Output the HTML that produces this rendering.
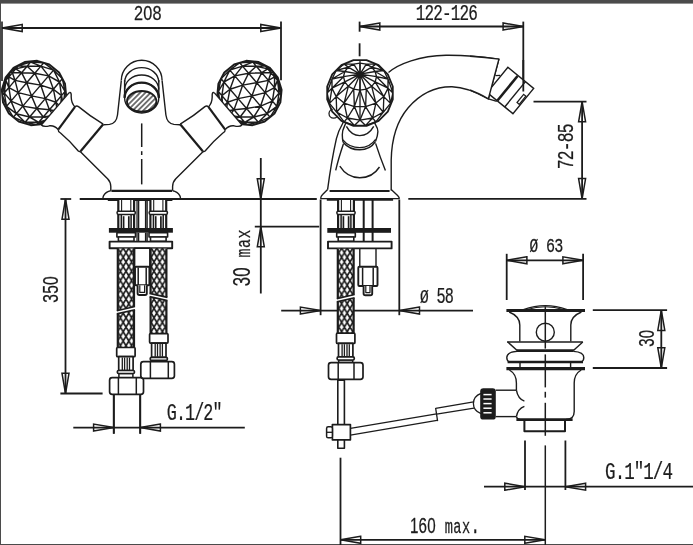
<!DOCTYPE html>
<html><head><meta charset="utf-8"><title>Technical drawing</title>
<style>
html,body{margin:0;padding:0;background:#fff;}
svg{display:block;}
.t{font-family:"Liberation Mono",monospace;fill:#1c1c1c;stroke:#1c1c1c;stroke-width:0.25;}
svg{filter:grayscale(1);}
.z{font-family:"Liberation Sans",sans-serif;}
</style></head>
<body>
<svg width="693" height="545" viewBox="0 0 693 545" fill="none" stroke="#1c1c1c" stroke-linecap="butt" stroke-linejoin="round">
<defs>
<pattern id="mesh" width="5.6" height="9.3" patternUnits="userSpaceOnUse" x="117.6" y="248">
<rect width="5.6" height="9.3" fill="#fff" stroke="none"/>
<path d="M0,0L5.6,9.3M5.6,0L0,9.3M-2.8,4.65L2.8,13.95M2.8,-4.65L8.4,4.65M-2.8,4.65L2.8,-4.65M2.8,13.95L8.4,4.65" stroke-width="1.7"/>
</pattern>
<pattern id="hatch" width="3.7" height="3.7" patternUnits="userSpaceOnUse" patternTransform="rotate(-45)">
<line x1="0" y1="1.85" x2="3.7" y2="1.85" stroke-width="1.2"/>
</pattern>
<clipPath id="cpL"><path d="M-10,40 L69.2,92.6 L41.3,125 L30,140 L-10,140 Z M-10,40 L90,40 L69.2,92.6 Z"/></clipPath>
</defs>
<rect x="0" y="0" width="693" height="545" fill="#fff" stroke="none"/>
<rect x="0" y="0" width="693" height="3.6" fill="#4b4b4b" stroke="none"/>
<rect x="0" y="0" width="1" height="545" fill="#4b4b4b" stroke="none"/>
<rect x="0" y="544" width="693" height="1" fill="#4b4b4b" stroke="none"/>
<line x1="2.00" y1="21.60" x2="2.00" y2="81.00" stroke-width="1.6" />
<line x1="281.00" y1="21.60" x2="281.00" y2="80.30" stroke-width="1.8" />
<line x1="2.00" y1="28.00" x2="281.00" y2="28.00" stroke-width="1.8" />
<path d="M22.20,24.50 L2.00,28.00 L22.20,31.50 Z" stroke-width="1.5" fill="none" stroke-linejoin="miter"/>
<path d="M260.80,31.50 L281.00,28.00 L260.80,24.50 Z" stroke-width="1.5" fill="none" stroke-linejoin="miter"/>
<line x1="359.60" y1="21.60" x2="359.60" y2="31.70" stroke-width="1.8" />
<line x1="359.60" y1="43.30" x2="359.60" y2="56.30" stroke-width="1.8" />
<line x1="523.30" y1="21.60" x2="523.30" y2="91.50" stroke-width="1.8" />
<line x1="359.60" y1="26.50" x2="523.30" y2="26.50" stroke-width="1.8" />
<path d="M379.80,23.00 L359.60,26.50 L379.80,30.00 Z" stroke-width="1.5" fill="none" stroke-linejoin="miter"/>
<path d="M503.10,30.00 L523.30,26.50 L503.10,23.00 Z" stroke-width="1.5" fill="none" stroke-linejoin="miter"/>
<line x1="533.50" y1="101.60" x2="586.50" y2="101.60" stroke-width="1.8" />
<line x1="408.30" y1="198.80" x2="586.50" y2="198.80" stroke-width="1.8" />
<line x1="582.10" y1="101.60" x2="582.10" y2="198.80" stroke-width="1.8" />
<path d="M585.60,121.80 L582.10,101.60 L578.60,121.80 Z" stroke-width="1.5" fill="none" stroke-linejoin="miter"/>
<path d="M578.60,178.60 L582.10,198.80 L585.60,178.60 Z" stroke-width="1.5" fill="none" stroke-linejoin="miter"/>
<line x1="260.80" y1="158.00" x2="260.80" y2="293.50" stroke-width="1.8" />
<line x1="254.80" y1="226.60" x2="319.20" y2="226.60" stroke-width="1.8" />
<path d="M257.30,178.80 L260.80,199.00 L264.30,178.80 Z" stroke-width="1.5" fill="none" stroke-linejoin="miter"/>
<path d="M264.30,246.80 L260.80,226.60 L257.30,246.80 Z" stroke-width="1.5" fill="none" stroke-linejoin="miter"/>
<line x1="60.40" y1="199.00" x2="71.20" y2="199.00" stroke-width="1.8" />
<line x1="65.50" y1="199.00" x2="65.50" y2="393.50" stroke-width="1.8" />
<line x1="60.40" y1="393.50" x2="102.60" y2="393.50" stroke-width="1.8" />
<path d="M69.00,219.20 L65.50,199.00 L62.00,219.20 Z" stroke-width="1.5" fill="none" stroke-linejoin="miter"/>
<path d="M62.00,373.30 L65.50,393.50 L69.00,373.30 Z" stroke-width="1.5" fill="none" stroke-linejoin="miter"/>
<line x1="113.80" y1="394.30" x2="113.80" y2="433.70" stroke-width="1.8" />
<line x1="140.20" y1="394.30" x2="140.20" y2="433.70" stroke-width="1.8" />
<line x1="73.30" y1="427.60" x2="244.80" y2="427.60" stroke-width="1.8" />
<path d="M93.60,431.10 L113.80,427.60 L93.60,424.10 Z" stroke-width="1.5" fill="none" stroke-linejoin="miter"/>
<path d="M160.40,424.10 L140.20,427.60 L160.40,431.10 Z" stroke-width="1.5" fill="none" stroke-linejoin="miter"/>
<line x1="320.60" y1="199.50" x2="320.60" y2="315.20" stroke-width="1.8" />
<line x1="399.30" y1="199.50" x2="399.30" y2="315.20" stroke-width="1.8" />
<line x1="281.20" y1="310.60" x2="473.00" y2="310.60" stroke-width="1.8" />
<path d="M300.40,314.10 L320.60,310.60 L300.40,307.10 Z" stroke-width="1.5" fill="none" stroke-linejoin="miter"/>
<path d="M419.50,307.10 L399.30,310.60 L419.50,314.10 Z" stroke-width="1.5" fill="none" stroke-linejoin="miter"/>
<line x1="506.70" y1="253.80" x2="506.70" y2="300.00" stroke-width="1.8" />
<line x1="583.10" y1="253.80" x2="583.10" y2="300.00" stroke-width="1.8" />
<line x1="506.70" y1="260.30" x2="583.10" y2="260.30" stroke-width="1.8" />
<path d="M526.90,256.80 L506.70,260.30 L526.90,263.80 Z" stroke-width="1.5" fill="none" stroke-linejoin="miter"/>
<path d="M562.90,263.80 L583.10,260.30 L562.90,256.80 Z" stroke-width="1.5" fill="none" stroke-linejoin="miter"/>
<line x1="592.80" y1="310.20" x2="667.10" y2="310.20" stroke-width="1.8" />
<line x1="592.80" y1="368.00" x2="667.10" y2="368.00" stroke-width="1.8" />
<line x1="661.30" y1="310.20" x2="661.30" y2="368.00" stroke-width="1.8" />
<path d="M664.80,330.40 L661.30,310.20 L657.80,330.40 Z" stroke-width="1.5" fill="none" stroke-linejoin="miter"/>
<path d="M657.80,347.80 L661.30,368.00 L664.80,347.80 Z" stroke-width="1.5" fill="none" stroke-linejoin="miter"/>
<line x1="525.00" y1="440.50" x2="525.00" y2="490.00" stroke-width="1.8" />
<line x1="565.40" y1="440.50" x2="565.40" y2="490.00" stroke-width="1.8" />
<line x1="484.00" y1="486.70" x2="693.00" y2="486.70" stroke-width="1.8" />
<path d="M504.80,490.20 L525.00,486.70 L504.80,483.20 Z" stroke-width="1.5" fill="none" stroke-linejoin="miter"/>
<path d="M585.60,483.20 L565.40,486.70 L585.60,490.20 Z" stroke-width="1.5" fill="none" stroke-linejoin="miter"/>
<line x1="340.50" y1="457.70" x2="340.50" y2="545.00" stroke-width="1.8" />
<line x1="340.50" y1="539.80" x2="545.00" y2="539.80" stroke-width="1.8" />
<path d="M360.70,536.30 L340.50,539.80 L360.70,543.30 Z" stroke-width="1.5" fill="none" stroke-linejoin="miter"/>
<path d="M524.80,543.30 L545.00,539.80 L524.80,536.30 Z" stroke-width="1.5" fill="none" stroke-linejoin="miter"/>
<g>
<clipPath id="bc1"><path d="M66.2,96.2L62.5,108.3L54.5,118.1L43.3,124.0L30.8,125.2L18.7,121.5L8.9,113.5L3.0,102.3L1.8,89.8L5.5,77.7L13.5,67.9L24.7,62.0L37.2,60.8L49.3,64.5L59.1,72.5L65.0,83.7Z"/></clipPath>
<path d="M9.7,72.2L19.4,64.5M9.7,72.2L18.2,65.9M9.7,72.2L15.7,68.9M9.7,72.2L12.4,72.8M9.7,72.2L8.8,76.9M9.7,72.2L5.9,80.4M9.7,72.2L4.0,82.6M58.3,113.8L64.4,103.0M58.3,113.8L63.2,104.4M58.3,113.8L60.6,107.3M58.3,113.8L57.3,111.2M58.3,113.8L53.8,115.4M58.3,113.8L50.8,118.8M58.3,113.8L48.9,121.0M19.4,64.5L18.2,65.9M18.2,65.9L15.7,68.9M15.7,68.9L12.4,72.8M12.4,72.8L8.8,76.9M8.8,76.9L5.9,80.4M5.9,80.4L4.0,82.6M30.6,62.1L27.1,66.2M27.1,66.2L21.6,72.7M21.6,72.7L15.0,80.4M15.0,80.4L8.9,87.6M8.9,87.6L4.3,92.9M4.3,92.9L2.2,95.4M43.8,62.7L40.9,66.1M40.9,66.1L34.8,73.2M34.8,73.2L26.7,82.7M26.7,82.7L18.2,92.6M18.2,92.6L11.0,101.1M11.0,101.1L6.5,106.3M53.6,70.1L48.6,75.9M48.6,75.9L40.7,85.1M40.7,85.1L31.5,95.9M31.5,95.9L22.8,106.1M22.8,106.1L16.3,113.7M16.3,113.7L13.3,117.2M62.4,78.7L59.5,82.0M59.5,82.0L53.4,89.2M53.4,89.2L45.3,98.6M45.3,98.6L36.8,108.5M36.8,108.5L29.6,117.0M29.6,117.0L25.1,122.2M65.0,91.5L61.5,95.6M61.5,95.6L55.9,102.2M55.9,102.2L49.4,109.8M49.4,109.8L43.3,117.0M43.3,117.0L38.7,122.3M38.7,122.3L36.6,124.8M64.4,103.0L63.2,104.4M63.2,104.4L60.6,107.3M60.6,107.3L57.3,111.2M57.3,111.2L53.8,115.4M53.8,115.4L50.8,118.8M50.8,118.8L48.9,121.0M19.4,64.5L30.6,62.1M18.2,65.9L30.6,62.1M18.2,65.9L27.1,66.2M15.7,68.9L27.1,66.2M15.7,68.9L21.6,72.7M12.4,72.8L21.6,72.7M12.4,72.8L15.0,80.4M8.8,76.9L15.0,80.4M8.8,76.9L8.9,87.6M5.9,80.4L8.9,87.6M5.9,80.4L4.3,92.9M4.0,82.6L4.3,92.9M4.0,82.6L2.2,95.4M30.6,62.1L43.8,62.7M30.6,62.1L40.9,66.1M27.1,66.2L40.9,66.1M27.1,66.2L34.8,73.2M21.6,72.7L34.8,73.2M21.6,72.7L26.7,82.7M15.0,80.4L26.7,82.7M15.0,80.4L18.2,92.6M8.9,87.6L18.2,92.6M8.9,87.6L11.0,101.1M4.3,92.9L11.0,101.1M4.3,92.9L6.5,106.3M2.2,95.4L6.5,106.3M43.8,62.7L53.6,70.1M40.9,66.1L53.6,70.1M40.9,66.1L48.6,75.9M34.8,73.2L48.6,75.9M34.8,73.2L40.7,85.1M26.7,82.7L40.7,85.1M26.7,82.7L31.5,95.9M18.2,92.6L31.5,95.9M18.2,92.6L22.8,106.1M11.0,101.1L22.8,106.1M11.0,101.1L16.3,113.7M6.5,106.3L16.3,113.7M6.5,106.3L13.3,117.2M53.6,70.1L62.4,78.7M53.6,70.1L59.5,82.0M48.6,75.9L59.5,82.0M48.6,75.9L53.4,89.2M40.7,85.1L53.4,89.2M40.7,85.1L45.3,98.6M31.5,95.9L45.3,98.6M31.5,95.9L36.8,108.5M22.8,106.1L36.8,108.5M22.8,106.1L29.6,117.0M16.3,113.7L29.6,117.0M16.3,113.7L25.1,122.2M13.3,117.2L25.1,122.2M62.4,78.7L65.0,91.5M59.5,82.0L65.0,91.5M59.5,82.0L61.5,95.6M53.4,89.2L61.5,95.6M53.4,89.2L55.9,102.2M45.3,98.6L55.9,102.2M45.3,98.6L49.4,109.8M36.8,108.5L49.4,109.8M36.8,108.5L43.3,117.0M29.6,117.0L43.3,117.0M29.6,117.0L38.7,122.3M25.1,122.2L38.7,122.3M25.1,122.2L36.6,124.8M65.0,91.5L64.4,103.0M65.0,91.5L63.2,104.4M61.5,95.6L63.2,104.4M61.5,95.6L60.6,107.3M55.9,102.2L60.6,107.3M55.9,102.2L57.3,111.2M49.4,109.8L57.3,111.2M49.4,109.8L53.8,115.4M43.3,117.0L53.8,115.4M43.3,117.0L50.8,118.8M38.7,122.3L50.8,118.8M38.7,122.3L48.9,121.0M36.6,124.8L48.9,121.0" stroke-width="1.45" fill="none" clip-path="url(#bc1)"/>
<path d="M66.2,96.2L62.5,108.3L54.5,118.1L43.3,124.0L30.8,125.2L18.7,121.5L8.9,113.5L3.0,102.3L1.8,89.8L5.5,77.7L13.5,67.9L24.7,62.0L37.2,60.8L49.3,64.5L59.1,72.5L65.0,83.7Z" stroke-width="1.9" fill="none" />
<path d="M69.2,92.6 L41.3,125 L30,140 L60,150 L90,100 Z" stroke-width="0" fill="#fff" stroke="none"/>
<path d="M41.3,125 L69.2,92.6" stroke-width="1.4" fill="none" />
<path d="M69.2,92.6 C71,92 71.4,93.5 71.2,97 C71.3,101 72.6,104.6 75,106.9" stroke-width="1.4" fill="none" />
<path d="M41.3,125 C43.5,127.2 46,126.6 49.5,125.8 C53,125.4 56,127 58.2,129.6" stroke-width="1.4" fill="none" />
<path d="M75,106.9 L58.2,129.6" stroke-width="2.2" fill="none" />
<path d="M75,106.9 Q76.5,105.2 78.5,106.6 Q90,116.2 103.2,124.2" stroke-width="1.4" fill="none" />
<path d="M103.2,124.2 L80.6,151.2" stroke-width="2.2" fill="none" />
<path d="M58.2,129.6 Q58,131.5 60.5,133 Q70,141 78.3,151 Q79.5,152 80.6,151.2" stroke-width="1.4" fill="none" />
<path d="M80.2,151.6 L107.6,178.8 Q110.8,182.2 110.8,186.6 L110.8,190.8" stroke-width="1.4" fill="none" />
<path d="M103.4,124.8 L109.5,124.4 Q116.3,123.6 117.5,115 L121.3,80.6" stroke-width="1.4" fill="none" />
<path d="M110.8,190.8 Q106,191.6 103.6,195.6 Q102.8,197 103,198.6" stroke-width="1.4" fill="none" />
</g>
<g transform="translate(283.4,0) scale(-1,1)">
<clipPath id="bc2"><path d="M66.2,96.2L62.5,108.3L54.5,118.1L43.3,124.0L30.8,125.2L18.7,121.5L8.9,113.5L3.0,102.3L1.8,89.8L5.5,77.7L13.5,67.9L24.7,62.0L37.2,60.8L49.3,64.5L59.1,72.5L65.0,83.7Z"/></clipPath>
<path d="M9.7,72.2L19.4,64.5M9.7,72.2L18.2,65.9M9.7,72.2L15.7,68.9M9.7,72.2L12.4,72.8M9.7,72.2L8.8,76.9M9.7,72.2L5.9,80.4M9.7,72.2L4.0,82.6M58.3,113.8L64.4,103.0M58.3,113.8L63.2,104.4M58.3,113.8L60.6,107.3M58.3,113.8L57.3,111.2M58.3,113.8L53.8,115.4M58.3,113.8L50.8,118.8M58.3,113.8L48.9,121.0M19.4,64.5L18.2,65.9M18.2,65.9L15.7,68.9M15.7,68.9L12.4,72.8M12.4,72.8L8.8,76.9M8.8,76.9L5.9,80.4M5.9,80.4L4.0,82.6M30.6,62.1L27.1,66.2M27.1,66.2L21.6,72.7M21.6,72.7L15.0,80.4M15.0,80.4L8.9,87.6M8.9,87.6L4.3,92.9M4.3,92.9L2.2,95.4M43.8,62.7L40.9,66.1M40.9,66.1L34.8,73.2M34.8,73.2L26.7,82.7M26.7,82.7L18.2,92.6M18.2,92.6L11.0,101.1M11.0,101.1L6.5,106.3M53.6,70.1L48.6,75.9M48.6,75.9L40.7,85.1M40.7,85.1L31.5,95.9M31.5,95.9L22.8,106.1M22.8,106.1L16.3,113.7M16.3,113.7L13.3,117.2M62.4,78.7L59.5,82.0M59.5,82.0L53.4,89.2M53.4,89.2L45.3,98.6M45.3,98.6L36.8,108.5M36.8,108.5L29.6,117.0M29.6,117.0L25.1,122.2M65.0,91.5L61.5,95.6M61.5,95.6L55.9,102.2M55.9,102.2L49.4,109.8M49.4,109.8L43.3,117.0M43.3,117.0L38.7,122.3M38.7,122.3L36.6,124.8M64.4,103.0L63.2,104.4M63.2,104.4L60.6,107.3M60.6,107.3L57.3,111.2M57.3,111.2L53.8,115.4M53.8,115.4L50.8,118.8M50.8,118.8L48.9,121.0M19.4,64.5L30.6,62.1M18.2,65.9L30.6,62.1M18.2,65.9L27.1,66.2M15.7,68.9L27.1,66.2M15.7,68.9L21.6,72.7M12.4,72.8L21.6,72.7M12.4,72.8L15.0,80.4M8.8,76.9L15.0,80.4M8.8,76.9L8.9,87.6M5.9,80.4L8.9,87.6M5.9,80.4L4.3,92.9M4.0,82.6L4.3,92.9M4.0,82.6L2.2,95.4M30.6,62.1L43.8,62.7M30.6,62.1L40.9,66.1M27.1,66.2L40.9,66.1M27.1,66.2L34.8,73.2M21.6,72.7L34.8,73.2M21.6,72.7L26.7,82.7M15.0,80.4L26.7,82.7M15.0,80.4L18.2,92.6M8.9,87.6L18.2,92.6M8.9,87.6L11.0,101.1M4.3,92.9L11.0,101.1M4.3,92.9L6.5,106.3M2.2,95.4L6.5,106.3M43.8,62.7L53.6,70.1M40.9,66.1L53.6,70.1M40.9,66.1L48.6,75.9M34.8,73.2L48.6,75.9M34.8,73.2L40.7,85.1M26.7,82.7L40.7,85.1M26.7,82.7L31.5,95.9M18.2,92.6L31.5,95.9M18.2,92.6L22.8,106.1M11.0,101.1L22.8,106.1M11.0,101.1L16.3,113.7M6.5,106.3L16.3,113.7M6.5,106.3L13.3,117.2M53.6,70.1L62.4,78.7M53.6,70.1L59.5,82.0M48.6,75.9L59.5,82.0M48.6,75.9L53.4,89.2M40.7,85.1L53.4,89.2M40.7,85.1L45.3,98.6M31.5,95.9L45.3,98.6M31.5,95.9L36.8,108.5M22.8,106.1L36.8,108.5M22.8,106.1L29.6,117.0M16.3,113.7L29.6,117.0M16.3,113.7L25.1,122.2M13.3,117.2L25.1,122.2M62.4,78.7L65.0,91.5M59.5,82.0L65.0,91.5M59.5,82.0L61.5,95.6M53.4,89.2L61.5,95.6M53.4,89.2L55.9,102.2M45.3,98.6L55.9,102.2M45.3,98.6L49.4,109.8M36.8,108.5L49.4,109.8M36.8,108.5L43.3,117.0M29.6,117.0L43.3,117.0M29.6,117.0L38.7,122.3M25.1,122.2L38.7,122.3M25.1,122.2L36.6,124.8M65.0,91.5L64.4,103.0M65.0,91.5L63.2,104.4M61.5,95.6L63.2,104.4M61.5,95.6L60.6,107.3M55.9,102.2L60.6,107.3M55.9,102.2L57.3,111.2M49.4,109.8L57.3,111.2M49.4,109.8L53.8,115.4M43.3,117.0L53.8,115.4M43.3,117.0L50.8,118.8M38.7,122.3L50.8,118.8M38.7,122.3L48.9,121.0M36.6,124.8L48.9,121.0" stroke-width="1.45" fill="none" clip-path="url(#bc2)"/>
<path d="M66.2,96.2L62.5,108.3L54.5,118.1L43.3,124.0L30.8,125.2L18.7,121.5L8.9,113.5L3.0,102.3L1.8,89.8L5.5,77.7L13.5,67.9L24.7,62.0L37.2,60.8L49.3,64.5L59.1,72.5L65.0,83.7Z" stroke-width="1.9" fill="none" />
<path d="M69.2,92.6 L41.3,125 L30,140 L60,150 L90,100 Z" stroke-width="0" fill="#fff" stroke="none"/>
<path d="M41.3,125 L69.2,92.6" stroke-width="1.4" fill="none" />
<path d="M69.2,92.6 C71,92 71.4,93.5 71.2,97 C71.3,101 72.6,104.6 75,106.9" stroke-width="1.4" fill="none" />
<path d="M41.3,125 C43.5,127.2 46,126.6 49.5,125.8 C53,125.4 56,127 58.2,129.6" stroke-width="1.4" fill="none" />
<path d="M75,106.9 L58.2,129.6" stroke-width="2.2" fill="none" />
<path d="M75,106.9 Q76.5,105.2 78.5,106.6 Q90,116.2 103.2,124.2" stroke-width="1.4" fill="none" />
<path d="M103.2,124.2 L80.6,151.2" stroke-width="2.2" fill="none" />
<path d="M58.2,129.6 Q58,131.5 60.5,133 Q70,141 78.3,151 Q79.5,152 80.6,151.2" stroke-width="1.4" fill="none" />
<path d="M80.2,151.6 L107.6,178.8 Q110.8,182.2 110.8,186.6 L110.8,190.8" stroke-width="1.4" fill="none" />
<path d="M103.4,124.8 L109.5,124.4 Q116.3,123.6 117.5,115 L121.3,80.6" stroke-width="1.4" fill="none" />
<path d="M110.8,190.8 Q106,191.6 103.6,195.6 Q102.8,197 103,198.6" stroke-width="1.4" fill="none" />
</g>
<path d="M121.3,80.6 A20.4,20.4 0 0 1 162.1,80.6" stroke-width="1.4" fill="none" />
<path d="M124.7,82.2 A17,14.6 0 0 1 158.7,82.2" stroke-width="1.4" fill="none" />
<path d="M124.7,89.6 A17,14.6 0 0 1 158.7,89.6" stroke-width="1.4" fill="none" />
<line x1="124.60" y1="80.00" x2="124.60" y2="98.00" stroke-width="1.4" />
<line x1="158.80" y1="80.00" x2="158.80" y2="98.00" stroke-width="1.4" />
<ellipse cx="141.7" cy="97.8" rx="17.1" ry="15.2" stroke-width="1.4"/>
<path d="M124.6,97.8 A17.1,15.2 0 0 1 158.8,97.8" stroke-width="2.4" fill="none" />
<ellipse cx="141.7" cy="101.4" rx="14.7" ry="10.4" stroke-width="1.9" fill="url(#hatch)"/>
<line x1="111.40" y1="190.90" x2="172.00" y2="190.90" stroke-width="2.2" />
<line x1="141.70" y1="123.40" x2="141.70" y2="147.00" stroke-width="1.5" />
<line x1="141.70" y1="151.20" x2="141.70" y2="155.00" stroke-width="1.5" />
<line x1="141.70" y1="159.00" x2="141.70" y2="184.40" stroke-width="1.5" />
<line x1="79.70" y1="199.00" x2="316.80" y2="199.00" stroke-width="1.9" />
<line x1="107.80" y1="199.80" x2="172.40" y2="199.80" stroke-width="2.2" />
<rect x="118.30" y="200.00" width="15.80" height="28.00" rx="0" stroke-width="0" fill="#fff" stroke="none"/>
<line x1="118.30" y1="200.00" x2="118.30" y2="228.00" stroke-width="2.2" />
<line x1="134.10" y1="200.00" x2="134.10" y2="228.00" stroke-width="2.2" />
<line x1="121.60" y1="200.00" x2="121.60" y2="211.50" stroke-width="1.1" />
<line x1="130.80" y1="200.00" x2="130.80" y2="211.50" stroke-width="1.1" />
<line x1="121.30" y1="214.50" x2="121.30" y2="228.00" stroke-width="1.5" />
<line x1="131.10" y1="214.50" x2="131.10" y2="228.00" stroke-width="1.5" />
<line x1="123.60" y1="216.20" x2="123.60" y2="228.00" stroke-width="1.7" />
<line x1="128.80" y1="216.20" x2="128.80" y2="228.00" stroke-width="1.7" />
<rect x="117.00" y="211.20" width="18.40" height="3.20" rx="1.6" stroke-width="1.5" fill="#fff" />
<rect x="116.90" y="232.70" width="18.60" height="4.30" rx="0" stroke-width="1.6" fill="#fff" />
<rect x="118.40" y="237.00" width="15.60" height="4.40" rx="0" stroke-width="1.6" fill="#fff" />
<rect x="150.40" y="200.00" width="15.80" height="28.00" rx="0" stroke-width="0" fill="#fff" stroke="none"/>
<line x1="150.40" y1="200.00" x2="150.40" y2="228.00" stroke-width="2.2" />
<line x1="166.20" y1="200.00" x2="166.20" y2="228.00" stroke-width="2.2" />
<line x1="153.70" y1="200.00" x2="153.70" y2="211.50" stroke-width="1.1" />
<line x1="162.90" y1="200.00" x2="162.90" y2="211.50" stroke-width="1.1" />
<line x1="153.40" y1="214.50" x2="153.40" y2="228.00" stroke-width="1.5" />
<line x1="163.20" y1="214.50" x2="163.20" y2="228.00" stroke-width="1.5" />
<line x1="155.70" y1="216.20" x2="155.70" y2="228.00" stroke-width="1.7" />
<line x1="160.90" y1="216.20" x2="160.90" y2="228.00" stroke-width="1.7" />
<rect x="149.10" y="211.20" width="18.40" height="3.20" rx="1.6" stroke-width="1.5" fill="#fff" />
<rect x="149.00" y="232.70" width="18.60" height="4.30" rx="0" stroke-width="1.6" fill="#fff" />
<rect x="150.50" y="237.00" width="15.60" height="4.40" rx="0" stroke-width="1.6" fill="#fff" />
<line x1="136.90" y1="200.50" x2="136.90" y2="228.00" stroke-width="1.0" />
<line x1="136.90" y1="232.70" x2="136.90" y2="241.40" stroke-width="1.0" />
<line x1="138.40" y1="200.50" x2="138.40" y2="228.00" stroke-width="1.8" />
<line x1="138.40" y1="232.70" x2="138.40" y2="241.40" stroke-width="1.8" />
<line x1="145.80" y1="200.50" x2="145.80" y2="228.00" stroke-width="1.8" />
<line x1="145.80" y1="232.70" x2="145.80" y2="241.40" stroke-width="1.8" />
<line x1="147.30" y1="200.50" x2="147.30" y2="228.00" stroke-width="1.0" />
<line x1="147.30" y1="232.70" x2="147.30" y2="241.40" stroke-width="1.0" />
<rect x="108.90" y="228.00" width="64.00" height="4.70" rx="0" stroke-width="0" fill="#1c1c1c" stroke="none"/>
<rect x="109.60" y="241.60" width="62.60" height="6.60" rx="0" stroke-width="1.9" fill="#fff" />
<rect x="134.60" y="248.30" width="15.20" height="18.40" rx="0" stroke-width="1.4" fill="#fff" />
<rect x="135.00" y="266.70" width="14.40" height="18.50" rx="1" stroke-width="1.9" fill="#fff" />
<line x1="138.20" y1="267.50" x2="138.20" y2="285.20" stroke-width="1.5" />
<line x1="146.20" y1="267.50" x2="146.20" y2="285.20" stroke-width="1.5" />
<path d="M137.6,285.2 L137.6,293.2 Q137.6,295.0 139.4,295.0 L144.99999999999997,295.0 Q146.79999999999998,295.0 146.79999999999998,293.2 L146.79999999999998,285.2" stroke-width="1.9" fill="#fff" />
<path d="M139.79999999999998,285.2 L139.79999999999998,292.4 L144.6,292.4 L144.6,285.2" stroke-width="1.2" fill="none" />
<rect x="117.20" y="248.60" width="17.40" height="98.90" fill="url(#mesh)" stroke="none"/>
<line x1="117.80" y1="248.60" x2="117.80" y2="347.50" stroke-width="2.2" />
<line x1="134.00" y1="248.60" x2="134.00" y2="347.50" stroke-width="2.2" />
<path d="M115.7,310.70 L136.1,306.50 L136.1,309.70 L115.7,313.90 Z" stroke-width="0" fill="#fff" stroke="none"/>
<line x1="116.80" y1="310.70" x2="135.00" y2="306.50" stroke-width="1.6" />
<line x1="116.80" y1="313.90" x2="135.00" y2="309.70" stroke-width="1.6" />
<rect x="150.00" y="248.60" width="17.00" height="85.00" fill="url(#mesh)" stroke="none"/>
<line x1="150.60" y1="248.60" x2="150.60" y2="333.60" stroke-width="2.2" />
<line x1="166.40" y1="248.60" x2="166.40" y2="333.60" stroke-width="2.2" />
<path d="M148.5,293.40 L168.5,297.40 L168.5,300.60 L148.5,296.60 Z" stroke-width="0" fill="#fff" stroke="none"/>
<line x1="149.60" y1="293.40" x2="167.40" y2="297.40" stroke-width="1.6" />
<line x1="149.60" y1="296.60" x2="167.40" y2="300.60" stroke-width="1.6" />
<rect x="116.70" y="347.50" width="18.40" height="9.20" rx="1" stroke-width="1.7" fill="#fff" />
<rect x="118.70" y="356.70" width="14.40" height="13.80" rx="0" stroke-width="1.7" fill="#fff" />
<line x1="122.30" y1="357.50" x2="122.30" y2="370.00" stroke-width="1.3" />
<line x1="124.60" y1="357.50" x2="124.60" y2="370.00" stroke-width="1.3" />
<line x1="127.20" y1="357.50" x2="127.20" y2="370.00" stroke-width="1.3" />
<line x1="129.50" y1="357.50" x2="129.50" y2="370.00" stroke-width="1.3" />
<rect x="118.90" y="373.50" width="14.00" height="4.20" rx="0" stroke-width="1.5" fill="#fff" />
<rect x="117.30" y="370.50" width="17.20" height="3.00" rx="1.4" stroke-width="1.7" fill="#fff" />
<rect x="109.60" y="377.70" width="33.90" height="16.60" rx="2.6" stroke-width="1.7" fill="#fff" />
<line x1="118.40" y1="377.70" x2="118.40" y2="394.30" stroke-width="1.5" />
<line x1="136.30" y1="377.70" x2="136.30" y2="394.30" stroke-width="1.5" />
<rect x="149.60" y="333.60" width="18.40" height="9.50" rx="1" stroke-width="1.7" fill="#fff" />
<rect x="151.60" y="343.10" width="14.40" height="14.20" rx="0" stroke-width="1.7" fill="#fff" />
<line x1="155.20" y1="343.90" x2="155.20" y2="356.80" stroke-width="1.3" />
<line x1="157.50" y1="343.90" x2="157.50" y2="356.80" stroke-width="1.3" />
<line x1="160.10" y1="343.90" x2="160.10" y2="356.80" stroke-width="1.3" />
<line x1="162.40" y1="343.90" x2="162.40" y2="356.80" stroke-width="1.3" />
<rect x="151.80" y="360.30" width="14.00" height="1.40" rx="0" stroke-width="1.5" fill="#fff" />
<rect x="150.20" y="357.30" width="17.20" height="3.00" rx="1.4" stroke-width="1.7" fill="#fff" />
<rect x="140.80" y="361.70" width="33.60" height="16.60" rx="2.6" stroke-width="1.7" fill="#fff" />
<line x1="150.40" y1="361.70" x2="150.40" y2="378.30" stroke-width="1.5" />
<line x1="168.30" y1="361.70" x2="168.30" y2="378.30" stroke-width="1.5" />
<line x1="113.80" y1="394.30" x2="113.80" y2="433.70" stroke-width="1.8" />
<line x1="140.20" y1="394.30" x2="140.20" y2="433.70" stroke-width="1.8" />
<path d="M388.5,72.5 C398,64 420,55.6 446,55.2 C466,55 486,57.2 498.9,59.1 L488.4,98.8 C478,93 466,87.2 452,86.8 C436,86.6 420,94 408,108 C397,121 391.6,140 391.2,160 L391.2,190.4" stroke-width="1.4" fill="none" />
<path d="M327.6,189.6 C329.4,176 331.6,160 336.4,138.6 C338,132.4 340,128 342.4,124 L344,120.6" stroke-width="1.4" fill="none" />
<path d="M327.6,189.6 L322.6,194.4 Q320.6,196.2 320.6,198.8" stroke-width="1.4" fill="none" />
<path d="M391.2,189.6 L397.6,195.4 Q399.4,197 399.4,198.8" stroke-width="1.4" fill="none" />
<line x1="329.60" y1="191.00" x2="389.60" y2="191.00" stroke-width="1.8" />
<path d="M347,120 L344.8,125.4 C343,129 342.2,132 342.3,134.8 C342.3,138 342.6,140 343.1,142.2" stroke-width="1.4" fill="none" />
<path d="M373.4,120 L375.4,124.4 C377.2,127.4 378,129.6 377.9,131.6 C377.8,136 376.4,139 375.4,141.6" stroke-width="1.4" fill="none" />
<path d="M343.1,142.2 C348,148 354,149.8 359.7,149.8 C366,149.8 371.6,147.4 375.4,141.6" stroke-width="1.6" fill="none" />
<path d="M342.9,139.8 C348,146 354,147.6 359.7,147.6 C366,147.6 371.6,145.2 375.6,139.4" stroke-width="1.2" fill="none" />
<path d="M346.4,126.4 C350,133 355,135.6 359.7,135.6 C365,135.6 370,133 373.7,126.4" stroke-width="1.4" fill="none" />
<path d="M343.4,144 C340,154 337.6,162 335.7,170.4" stroke-width="1.4" fill="none" />
<path d="M375.6,143.4 C379,154 382.4,163 385.4,170.4" stroke-width="1.4" fill="none" />
<path d="M339.8,166.2 C345,174.4 352.6,177.8 359.7,177.8 C367,177.8 374.4,174.8 379.5,167" stroke-width="1.4" fill="none" />
<circle cx="333.6" cy="113.6" r="4.6" stroke-width="1.3"/>
<circle cx="360" cy="93" r="32" fill="#fff" stroke="none"/>
<clipPath id="bc3"><path d="M392.8,99.5L387.8,111.6L378.6,120.8L366.5,125.8L353.5,125.8L341.4,120.8L332.2,111.6L327.2,99.5L327.2,86.5L332.2,74.4L341.4,65.2L353.5,60.2L366.5,60.2L378.6,65.2L387.8,74.4L392.8,86.5Z"/></clipPath>
<path d="M360.0,74.2L343.5,76.7M360.0,74.2L344.8,71.5M360.0,74.2L348.3,67.1M360.0,74.2L353.7,64.2M360.0,74.2L360.0,63.1M360.0,74.2L366.3,64.2M360.0,74.2L371.7,67.1M360.0,74.2L375.2,71.5M360.0,74.2L376.5,76.7M360.0,74.2L375.2,81.9M360.0,74.2L371.7,86.3M360.0,74.2L366.3,89.2M360.0,74.2L360.0,90.2M360.0,74.2L353.7,89.2M360.0,74.2L348.3,86.3M360.0,74.2L344.8,81.9M343.5,76.7L344.8,71.5M344.8,71.5L348.3,67.1M348.3,67.1L353.7,64.2M353.7,64.2L360.0,63.1M360.0,63.1L366.3,64.2M366.3,64.2L371.7,67.1M371.7,67.1L375.2,71.5M375.2,71.5L376.5,76.7M376.5,76.7L375.2,81.9M375.2,81.9L371.7,86.3M371.7,86.3L366.3,89.2M366.3,89.2L360.0,90.2M360.0,90.2L353.7,89.2M353.7,89.2L348.3,86.3M348.3,86.3L344.8,81.9M344.8,81.9L343.5,76.7M332.0,79.0L336.2,70.5M336.2,70.5L344.1,64.1M375.9,64.1L383.8,70.5M383.8,70.5L388.0,79.0M388.0,79.0L388.0,88.2M388.0,88.2L383.8,96.6M383.8,96.6L375.9,103.1M375.9,103.1L365.6,106.6M365.6,106.6L354.4,106.6M354.4,106.6L344.1,103.1M344.1,103.1L336.2,96.6M336.2,96.6L332.0,88.2M332.0,88.2L332.0,79.0M393.0,93.0L390.5,103.4M390.5,103.4L383.3,112.2M383.3,112.2L372.6,118.0M372.6,118.0L360.0,120.1M360.0,120.1L347.4,118.0M347.4,118.0L336.7,112.2M336.7,112.2L329.5,103.4M329.5,103.4L327.0,93.0M375.9,121.9L365.6,125.4M365.6,125.4L354.4,125.4M354.4,125.4L344.1,121.9M343.5,76.7L332.0,79.0M344.8,71.5L332.0,79.0M344.8,71.5L336.2,70.5M348.3,67.1L336.2,70.5M348.3,67.1L344.1,64.1M353.7,64.2L344.1,64.1M366.3,64.2L375.9,64.1M371.7,67.1L375.9,64.1M371.7,67.1L383.8,70.5M375.2,71.5L383.8,70.5M375.2,71.5L388.0,79.0M376.5,76.7L388.0,79.0M376.5,76.7L388.0,88.2M375.2,81.9L388.0,88.2M375.2,81.9L383.8,96.6M371.7,86.3L383.8,96.6M371.7,86.3L375.9,103.1M366.3,89.2L375.9,103.1M366.3,89.2L365.6,106.6M360.0,90.2L365.6,106.6M360.0,90.2L354.4,106.6M353.7,89.2L354.4,106.6M353.7,89.2L344.1,103.1M348.3,86.3L344.1,103.1M348.3,86.3L336.2,96.6M344.8,81.9L336.2,96.6M344.8,81.9L332.0,88.2M343.5,76.7L332.0,88.2M332.0,79.0L327.0,93.0M388.0,79.0L393.0,93.0M388.0,88.2L393.0,93.0M388.0,88.2L390.5,103.4M383.8,96.6L390.5,103.4M383.8,96.6L383.3,112.2M375.9,103.1L383.3,112.2M375.9,103.1L372.6,118.0M365.6,106.6L372.6,118.0M365.6,106.6L360.0,120.1M354.4,106.6L360.0,120.1M354.4,106.6L347.4,118.0M344.1,103.1L347.4,118.0M344.1,103.1L336.7,112.2M336.2,96.6L336.7,112.2M336.2,96.6L329.5,103.4M332.0,88.2L329.5,103.4M332.0,88.2L327.0,93.0M383.3,112.2L375.9,121.9M372.6,118.0L375.9,121.9M372.6,118.0L365.6,125.4M360.0,120.1L365.6,125.4M360.0,120.1L354.4,125.4M347.4,118.0L354.4,125.4M347.4,118.0L344.1,121.9M336.7,112.2L344.1,121.9" stroke-width="1.35" fill="none" clip-path="url(#bc3)"/>
<path d="M392.8,99.5L387.8,111.6L378.6,120.8L366.5,125.8L353.5,125.8L341.4,120.8L332.2,111.6L327.2,99.5L327.2,86.5L332.2,74.4L341.4,65.2L353.5,60.2L366.5,60.2L378.6,65.2L387.8,74.4L392.8,86.5Z" stroke-width="1.8" fill="none" />
<line x1="360.00" y1="61.00" x2="360.00" y2="121.00" stroke-width="1.3" />
<line x1="326.80" y1="199.60" x2="393.10" y2="199.60" stroke-width="2.2" />
<line x1="320.60" y1="198.70" x2="399.30" y2="198.70" stroke-width="1.2" />
<path d="M507.90,67.30 L533.67,88.38 L512.94,113.66 L487.17,92.58 Z" stroke-width="1.4" fill="#fff" stroke-linejoin="miter"/>
<path d="M517.58,75.99 L497.48,100.50" stroke-width="2.6" fill="none" stroke-linejoin="miter"/>
<path d="M525.47,81.67 L504.74,106.95" stroke-width="1.4" fill="none" stroke-linejoin="miter"/>
<path d="M523.68,94.41 L525.85,96.19 L519.19,104.30 L517.02,102.53 Z" stroke-width="1.2" fill="none" stroke-linejoin="miter"/>
<path d="M495.40,75.60 L500.20,75.40" stroke-width="1.1" fill="none" stroke-linejoin="miter"/>
<path d="M488.40,98.80 L496.80,101.40" stroke-width="1.4" fill="none" stroke-linejoin="miter"/>
<path d="M470,56.4 L498.9,59.1 L488.4,98.8 L470,90 Z" stroke-width="0" fill="#fff" stroke="none"/>
<path d="M470,56.2 C480,56.8 490,57.8 498.9,59.1 L488.4,98.8 C482,95.2 476,92.2 470,90" stroke-width="1.4" fill="none" />
<line x1="523.30" y1="60.00" x2="523.30" y2="91.50" stroke-width="1.8" />
<rect x="338.10" y="200.00" width="15.80" height="28.00" rx="0" stroke-width="0" fill="#fff" stroke="none"/>
<line x1="338.10" y1="200.00" x2="338.10" y2="228.00" stroke-width="2.2" />
<line x1="353.90" y1="200.00" x2="353.90" y2="228.00" stroke-width="2.2" />
<line x1="341.40" y1="200.00" x2="341.40" y2="211.50" stroke-width="1.1" />
<line x1="350.60" y1="200.00" x2="350.60" y2="211.50" stroke-width="1.1" />
<line x1="341.10" y1="214.50" x2="341.10" y2="228.00" stroke-width="1.5" />
<line x1="350.90" y1="214.50" x2="350.90" y2="228.00" stroke-width="1.5" />
<line x1="343.40" y1="216.20" x2="343.40" y2="228.00" stroke-width="1.7" />
<line x1="348.60" y1="216.20" x2="348.60" y2="228.00" stroke-width="1.7" />
<rect x="336.80" y="211.20" width="18.40" height="3.20" rx="1.6" stroke-width="1.5" fill="#fff" />
<rect x="336.70" y="232.70" width="18.60" height="4.30" rx="0" stroke-width="1.6" fill="#fff" />
<rect x="338.20" y="237.00" width="15.60" height="4.40" rx="0" stroke-width="1.6" fill="#fff" />
<line x1="363.70" y1="200.00" x2="363.70" y2="241.60" stroke-width="2.0" />
<line x1="372.60" y1="200.00" x2="372.60" y2="241.60" stroke-width="2.0" />
<rect x="327.30" y="228.00" width="63.70" height="4.80" rx="0" stroke-width="0" fill="#1c1c1c" stroke="none"/>
<rect x="328.00" y="241.60" width="63.60" height="6.80" rx="0" stroke-width="1.9" fill="#fff" />
<rect x="359.80" y="248.60" width="16.20" height="18.20" rx="0" stroke-width="1.4" fill="#fff" />
<rect x="358.30" y="266.80" width="19.20" height="19.20" rx="1" stroke-width="1.9" fill="#fff" />
<line x1="362.60" y1="267.60" x2="362.60" y2="286.00" stroke-width="1.5" />
<line x1="373.20" y1="267.60" x2="373.20" y2="286.00" stroke-width="1.5" />
<path d="M363.59999999999997,286.0 L363.59999999999997,293.4 Q363.59999999999997,295.2 365.4,295.2 L370.4,295.2 Q372.2,295.2 372.2,293.4 L372.2,286.0" stroke-width="1.9" fill="#fff" />
<path d="M365.79999999999995,286.0 L365.79999999999995,292.59999999999997 L370.0,292.59999999999997 L370.0,286.0" stroke-width="1.2" fill="none" />
<rect x="337.20" y="248.80" width="17.00" height="84.40" fill="url(#mesh)" stroke="none"/>
<line x1="337.80" y1="248.80" x2="337.80" y2="333.20" stroke-width="2.2" />
<line x1="353.60" y1="248.80" x2="353.60" y2="333.20" stroke-width="2.2" />
<path d="M335.7,298.70 L355.7,294.50 L355.7,297.70 L335.7,301.90 Z" stroke-width="0" fill="#fff" stroke="none"/>
<line x1="336.80" y1="298.70" x2="354.60" y2="294.50" stroke-width="1.6" />
<line x1="336.80" y1="301.90" x2="354.60" y2="297.70" stroke-width="1.6" />
<rect x="336.50" y="333.20" width="18.40" height="10.20" rx="1" stroke-width="1.7" fill="#fff" />
<rect x="338.50" y="343.40" width="14.40" height="13.40" rx="0" stroke-width="1.7" fill="#fff" />
<line x1="342.10" y1="344.20" x2="342.10" y2="356.30" stroke-width="1.3" />
<line x1="344.40" y1="344.20" x2="344.40" y2="356.30" stroke-width="1.3" />
<line x1="347.00" y1="344.20" x2="347.00" y2="356.30" stroke-width="1.3" />
<line x1="349.30" y1="344.20" x2="349.30" y2="356.30" stroke-width="1.3" />
<rect x="338.70" y="360.00" width="14.00" height="2.60" rx="0" stroke-width="1.5" fill="#fff" />
<rect x="337.10" y="356.80" width="17.20" height="3.20" rx="1.4" stroke-width="1.7" fill="#fff" />
<rect x="328.50" y="362.60" width="34.50" height="16.80" rx="2.6" stroke-width="1.7" fill="#fff" />
<line x1="338.20" y1="362.60" x2="338.20" y2="379.40" stroke-width="1.5" />
<line x1="354.00" y1="362.60" x2="354.00" y2="379.40" stroke-width="1.5" />
<rect x="337.80" y="380.20" width="6.60" height="68.00" rx="0" stroke-width="1.6" fill="#fff" />
<rect x="332.40" y="424.60" width="18.00" height="15.20" rx="0" stroke-width="1.7" fill="#fff" />
<rect x="326.60" y="426.80" width="5.80" height="11.00" rx="1.6" stroke-width="1.5" fill="#fff" />
<line x1="326.60" y1="432.30" x2="332.40" y2="432.30" stroke-width="1.3" />
<path d="M350.4,428.4 L436.6,413.8 M350.4,435.2 L437.0,420.4" stroke-width="1.3" fill="none" />
<path d="M435.6,408.4 L473.6,401.8 M436.6,414.2 L474.0,408.2 M435.6,407.8 L437.6,421.2" stroke-width="1.3" fill="none" />
<path d="M481,393.4 C476,395.4 473.4,399 473.4,403.4 C473.4,408 476,411.6 481,413.6" stroke-width="1.3" fill="#fff" />
<rect x="480.20" y="388.20" width="15.60" height="31.40" rx="3.2" stroke-width="0" fill="#1c1c1c" stroke="none"/>
<line x1="483.40" y1="394.60" x2="491.60" y2="394.60" stroke-width="1.5" stroke="#fff"/>
<line x1="483.40" y1="399.00" x2="491.60" y2="399.00" stroke-width="1.5" stroke="#fff"/>
<line x1="483.40" y1="403.60" x2="491.60" y2="403.60" stroke-width="1.5" stroke="#fff"/>
<line x1="483.40" y1="408.20" x2="491.60" y2="408.20" stroke-width="1.5" stroke="#fff"/>
<line x1="483.40" y1="412.80" x2="491.60" y2="412.80" stroke-width="1.5" stroke="#fff"/>
<line x1="495.80" y1="390.20" x2="516.20" y2="390.20" stroke-width="1.4" />
<line x1="495.80" y1="416.60" x2="516.20" y2="416.60" stroke-width="1.4" />
<path d="M581.40,312 C575.00,314.6 570.80,318 570.80,325 L570.80,341.6" stroke-width="1.4" fill="none" />
<path d="M582.80,342 L573.40,350.6" stroke-width="1.4" fill="none" />
<path d="M573.60,351.4 C580.00,351.8 583.80,353.6 583.80,357.6 C583.80,359.8 583.00,361.2 581.60,361.8" stroke-width="1.4" fill="none" />
<line x1="570.60" y1="362.00" x2="570.60" y2="367.20" stroke-width="1.4" />
<path d="M581.20,370 C576.00,373 574.20,377 574.20,383" stroke-width="1.4" fill="none" />
<path d="M509.20,312 C515.60,314.6 519.80,318 519.80,325 L519.80,341.6" stroke-width="1.4" fill="none" />
<path d="M507.80,342 L517.20,350.6" stroke-width="1.4" fill="none" />
<path d="M517.00,351.4 C510.60,351.8 506.80,353.6 506.80,357.6 C506.80,359.8 507.60,361.2 509.00,361.8" stroke-width="1.4" fill="none" />
<line x1="520.00" y1="362.00" x2="520.00" y2="367.20" stroke-width="1.4" />
<path d="M509.40,370 C514.60,373 516.40,377 516.40,383" stroke-width="1.4" fill="none" />
<line x1="506.40" y1="310.60" x2="585.00" y2="310.60" stroke-width="3.0" />
<path d="M523.4,309.6 Q545.3,301.6 567.2,309.6" stroke-width="1.1" fill="none" />
<path d="M527,309.6 Q545.3,303.8 563.6,309.6" stroke-width="1.1" fill="none" />
<circle cx="545.3" cy="332.2" r="9.0" stroke-width="1.4"/>
<line x1="507.00" y1="342.00" x2="582.80" y2="342.00" stroke-width="1.6" />
<line x1="516.80" y1="350.60" x2="573.80" y2="350.60" stroke-width="2.6" />
<line x1="507.60" y1="362.00" x2="583.00" y2="362.00" stroke-width="2.4" />
<line x1="506.40" y1="368.60" x2="585.00" y2="368.60" stroke-width="3.2" />
<path d="M574.2,383 L574.2,411.4 Q574.2,419.2 566,419.4" stroke-width="1.4" fill="none" />
<path d="M516.4,383 L516.4,390.2" stroke-width="1.4" fill="none" />
<path d="M516.4,390.2 C517.4,396 520,399.6 524.4,401.2" stroke-width="1.4" fill="none" />
<path d="M524.4,406.4 C520,408 517.4,411 516.4,416.6" stroke-width="1.4" fill="none" />
<path d="M516.4,416.6 Q517,419 520,419.4" stroke-width="1.4" fill="none" />
<line x1="516.40" y1="419.60" x2="572.60" y2="419.60" stroke-width="2.6" />
<path d="M524.4,420 L524.4,431.2 L565.0,431.2 L565.0,420" stroke-width="2.0" fill="none" />
<line x1="545.30" y1="306.60" x2="545.30" y2="348.60" stroke-width="1.5" />
<line x1="545.30" y1="354.40" x2="545.30" y2="387.40" stroke-width="1.5" />
<line x1="545.30" y1="391.80" x2="545.30" y2="397.60" stroke-width="1.5" />
<line x1="545.30" y1="402.80" x2="545.30" y2="435.80" stroke-width="1.5" />
<line x1="545.30" y1="445.40" x2="545.30" y2="545.00" stroke-width="1.5" />
<text transform="translate(133.94,19.82) scale(0.7708,1)" font-size="22.00" letter-spacing="-1.200" class="t" xml:space="preserve"><tspan class="z" font-size="21.10" dx="0.13" letter-spacing="0.27">208</tspan></text>
<text transform="translate(415.76,19.62) scale(0.7184,1)" font-size="22.30" letter-spacing="-1.216" class="t" xml:space="preserve">122-126</text>
<text transform="translate(166.80,420.40) scale(0.7092,1)" font-size="23.63" letter-spacing="-1.289" class="t" xml:space="preserve">G.1/2"</text>
<text transform="translate(420.16,303.00) scale(0.7042,1)" font-size="21.56" letter-spacing="-1.176" class="t" xml:space="preserve"><tspan font-size="20.69" dx="-0.33" letter-spacing="-0.66">Ø</tspan> 58</text>
<text transform="translate(529.83,251.80) scale(0.7246,1)" font-size="20.81" letter-spacing="-1.135" class="t" xml:space="preserve"><tspan font-size="19.98" dx="-0.32" letter-spacing="-0.64">Ø</tspan> 63</text>
<text transform="translate(605.07,479.40) scale(0.7324,1)" font-size="23.93" letter-spacing="-1.305" class="t" xml:space="preserve">G.1"1/4</text>
<text transform="translate(409.81,532.70) scale(0.6865,1)" font-size="23.04" letter-spacing="-1.257" class="t" xml:space="preserve"><tspan class="z" font-size="22.09" dx="0.14" letter-spacing="0.28">160</tspan> <tspan font-size="19.81" dx="0.34" letter-spacing="0.68">max</tspan>.</text>
<text transform="translate(573.40,169.13) rotate(-90) scale(0.7474,1)" font-size="22.00" letter-spacing="-1.200" class="t" xml:space="preserve">72-85</text>
<text transform="translate(250.20,286.45) rotate(-90) scale(0.7248,1)" font-size="24.07" letter-spacing="-1.313" class="t" xml:space="preserve"><tspan class="z" font-size="23.09" dx="0.15" letter-spacing="0.29">30</tspan> <tspan font-size="20.70" dx="0.35" letter-spacing="0.71">max</tspan></text>
<text transform="translate(58.40,302.75) rotate(-90) scale(0.7303,1)" font-size="22.30" letter-spacing="-1.216" class="t" xml:space="preserve"><tspan class="z" font-size="21.38" dx="0.14" letter-spacing="0.27">350</tspan></text>
<text transform="translate(653.70,346.78) rotate(-90) scale(0.6758,1)" font-size="23.04" letter-spacing="-1.257" class="t" xml:space="preserve"><tspan class="z" font-size="22.09" dx="0.14" letter-spacing="0.28">30</tspan></text>
</svg>
</body></html>
